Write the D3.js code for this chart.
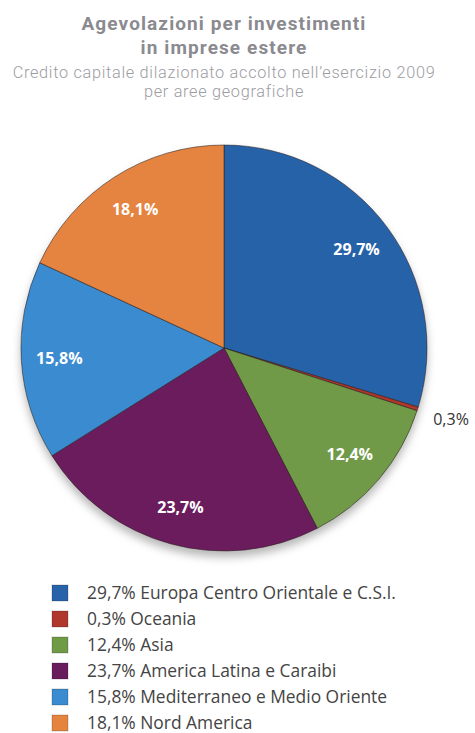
<!DOCTYPE html>
<html><head><meta charset="utf-8">
<script src="https://cdn.jsdelivr.net/npm/d3@7"></script>
<style>body{margin:0;background:#fff;} svg{display:block;}</style>
</head><body>
<svg id="c" width="475" height="733"></svg>
<script>
const categories = ["Europa Centro Orientale e C.S.I.", "Oceania", "Asia", "America Latina e Caraibi", "Mediterraneo e Medio Oriente", "Nord America"];
const values = [29.7, 0.3, 12.4, 23.7, 15.8, 18.1];
const valueLabels = ["29,7%", "0,3%", "12,4%", "23,7%", "15,8%", "18,1%"];
const colors = ["#2862a8", "#b0372b", "#6f9a46", "#6a1d5d", "#3a8bd0", "#e5843f"];
const titleLines = ["Agevolazioni per investimenti", "in imprese estere"];
const subtitleLines = ["Credito capitale dilazionato accolto nell’esercizio 2009", "per aree geografiche"];

const svg = d3.select("#c");
const font = "'Open Sans', 'Noto Sans', sans-serif";
const tfont = "Roboto, 'Liberation Sans', sans-serif";
const cx = 224, cy = 348, R = 203;

const defs = svg.append("defs");
const f = defs.append("filter").attr("id","sh").attr("x","-20%").attr("y","-20%").attr("width","140%").attr("height","150%");
f.append("feDropShadow").attr("dx",0).attr("dy",6).attr("stdDeviation",4).attr("flood-color","#000").attr("flood-opacity",0.28);

svg.selectAll("text.title").data(titleLines).join("text")
  .attr("x", 224).attr("y", (d,i)=>30+i*23.5)
  .attr("text-anchor","middle").attr("font-family",tfont).attr("font-weight","bold")
  .attr("font-size",19).attr("letter-spacing",1.1).attr("fill","#8a8a90").text(d=>d);
svg.selectAll("text.sub").data(subtitleLines).join("text")
  .attr("x", 224).attr("y", (d,i)=>77.5+i*19.5)
  .attr("text-anchor","middle").attr("font-family",tfont).attr("font-weight",300)
  .attr("font-size",16.3).attr("letter-spacing",0.7).attr("fill","#9c9ca2").text(d=>d);

const pie = d3.pie().sort(null).value(d=>d)(values);
const arc = d3.arc().innerRadius(0).outerRadius(R);
const g = svg.append("g").attr("transform",`translate(${cx},${cy})`);
g.append("g").attr("filter","url(#sh)").selectAll("path").data(pie).join("path")
  .attr("d",arc).attr("fill",(d,i)=>colors[i])
  .attr("stroke","rgba(40,30,30,0.55)").attr("stroke-width",1);

const labArc = d3.arc().innerRadius(165).outerRadius(165);
const outArc = d3.arc().innerRadius(238).outerRadius(238);
g.selectAll("text.lab").data(pie).join("text")
  .attr("transform",(d,i)=>`translate(${(i===1?outArc:labArc).centroid(d)})`)
  .attr("text-anchor","middle").attr("dy","0.35em")
  .attr("font-family",font).attr("font-weight",(d,i)=>i===1?"normal":"bold")
  .attr("font-size",16).attr("fill",(d,i)=>i===1?"#333":"#fff")
  .text((d,i)=>valueLabels[i]);

const leg = svg.append("g");
const rows = leg.selectAll("g").data(categories).join("g")
  .attr("transform",(d,i)=>`translate(52,${593+i*26})`);
rows.append("rect").attr("x",0).attr("y",-8).attr("width",16).attr("height",16)
  .attr("fill",(d,i)=>colors[i]).attr("stroke","rgba(0,0,0,0.25)").attr("stroke-width",0.8);
rows.append("text").attr("x",35).attr("y",0).attr("dy","0.35em")
  .attr("font-family",font).attr("font-size",17.4).attr("fill","#444")
  .text((d,i)=>valueLabels[i]+" "+d);
</script>
</body></html>
